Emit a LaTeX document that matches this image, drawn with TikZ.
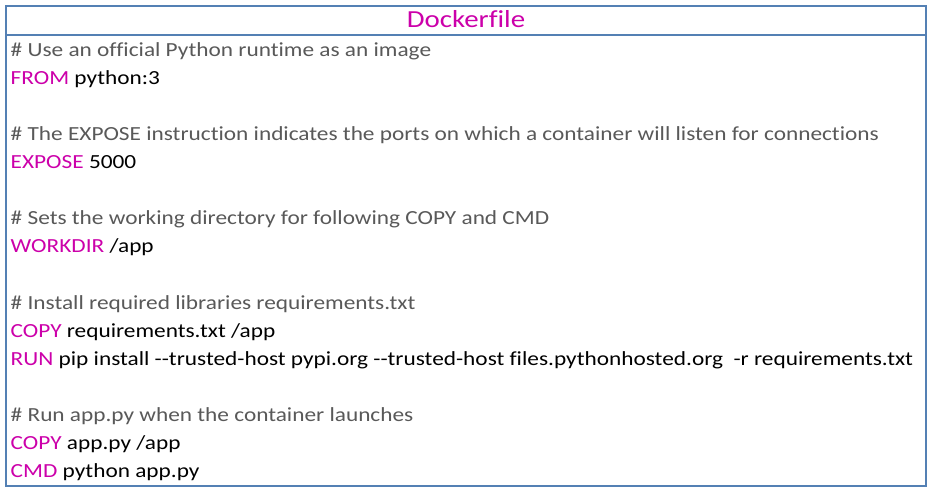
\documentclass[tikz,border=0pt]{standalone}
\usepackage{fontspec}
\setmainfont[Ligatures=NoCommon]{Carlito}
\definecolor{kw}{RGB}{204,0,170}
\definecolor{cm}{RGB}{89,89,89}
\definecolor{bd}{RGB}{84,128,180}
\begin{document}
\begin{tikzpicture}[x=1pt,y=-1pt,
  ln/.style={anchor=base west,inner sep=0pt,xscale=1.165,transform shape,font=\fontsize{20}{24}\selectfont},
  frame/.style={draw=bd,line width=1.6pt}]
\useasboundingbox (0,0) rectangle (931,494);
\draw[frame,fill=white] (6,6) rectangle (926,486);
\draw[frame] (6,35) -- (926,35);
\node[anchor=base,inner sep=0pt,xscale=1.18,transform shape,font=\fontsize{24.5}{28}\selectfont,text=kw] (title) at (466,27.5) {Dockerfile};
\node[ln,text=cm] (l0) at (10.5,57) {\# Use an official Python runtime as an image};
\node[ln] (l1) at (10.5,85) {\textcolor{kw}{FROM} python:3};
\node[ln,text=cm] (l3) at (10.5,141) {\# The EXPOSE instruction indicates the ports on which a container will listen for connections};
\node[ln] (l4) at (10.5,169) {\textcolor{kw}{EXPOSE} 5000};
\node[ln,text=cm] (l6) at (10.5,225) {\# Sets the working directory for following COPY and CMD};
\node[ln] (l7) at (10.5,253) {\textcolor{kw}{WORKDIR} /app};
\node[ln,text=cm] (l9) at (10.5,309) {\# Install required libraries requirements.txt};
\node[ln] (l10) at (10.5,337) {\textcolor{kw}{COPY} requirements.txt /app};
\node[ln] (l11) at (10.5,365) {\textcolor{kw}{RUN} pip install -{}-trusted-host pypi.org -{}-trusted-host files.pythonhosted.org\ \ -r requirements.txt};
\node[ln,text=cm] (l13) at (10.5,421) {\# Run app.py when the container launches};
\node[ln] (l14) at (10.5,449) {\textcolor{kw}{COPY} app.py /app};
\node[ln] (l15) at (10.5,477) {\textcolor{kw}{CMD} python app.py};
\end{tikzpicture}
\end{document}
